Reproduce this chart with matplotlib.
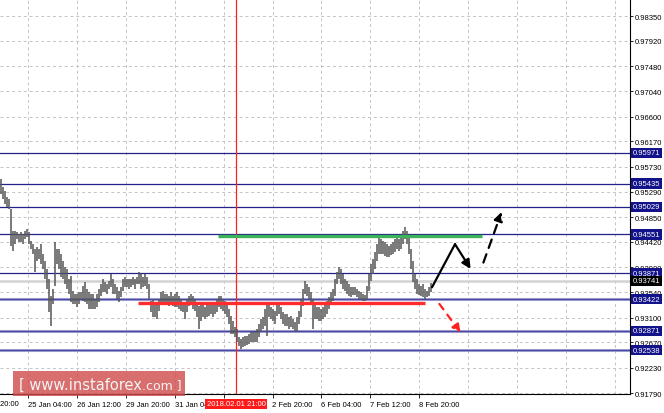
import numpy as np
import matplotlib
matplotlib.use("Agg")
import matplotlib.pyplot as plt
from matplotlib.patches import Rectangle

# ── H1 bars (high / low) ─────────────────────────────────────────
bar_high = [
    .9551, .9537, .9530, .9520, .9517, .9499, .9461, .9461, .9459, .9456,
    .9459, .9456, .9461, .9464, .9459, .9444, .9438, .9430, .9433, .9430,
    .9438, .9421, .9409, .9395, .9377, .9348, .9360, .9442, .9430, .9430,
    .9421, .9409, .9398, .9395, .9377, .9383, .9356, .9351, .9351, .9355,
    .9355, .9365, .9372, .9360, .9355, .9351, .9351, .9343, .9351, .9360,
    .9369, .9377, .9372, .9369, .9374, .9386, .9377, .9369, .9364, .9356,
    .9364, .9377, .9381, .9377, .9377, .9377, .9381, .9377, .9381, .9390,
    .9386, .9381, .9386, .9381, .9369, .9339, .9343, .9334, .9334, .9343,
    .9355, .9356, .9351, .9351, .9348, .9355, .9348, .9351, .9355, .9348,
    .9343, .9337, .9334, .9343, .9348, .9351, .9348, .9343, .9334, .9330,
    .9334, .9334, .9329, .9334, .9337, .9334, .9334, .9337, .9343, .9348,
    .9348, .9343, .9339, .9334, .9325, .9313, .9304, .9294, .9290, .9276,
    .9273, .9276, .9278, .9278, .9282, .9285, .9285, .9285, .9290, .9299,
    .9308, .9311, .9325, .9334, .9334, .9329, .9325, .9321, .9334, .9337,
    .9329, .9320, .9317, .9317, .9311, .9313, .9308, .9303, .9311, .9321,
    .9343, .9360, .9374, .9369, .9364, .9355, .9343, .9334, .9329, .9329,
    .9325, .9329, .9334, .9339, .9346, .9355, .9360, .9377, .9390, .9398,
    .9395, .9386, .9377, .9374, .9369, .9364, .9364, .9364, .9360, .9356,
    .9355, .9351, .9350, .9365, .9386, .9404, .9412, .9425, .9438, .9451,
    .9447, .9444, .9442, .9438, .9435, .9438, .9442, .9447, .9451, .9447,
    .9451, .9461, .9468, .9461, .9451, .9430, .9409, .9386, .9377, .9369,
    .9365, .9369, .9360, .9356, .9364, .9370,
]
bar_low = [
    .9525, .9517, .9508, .9503, .9499, .9435, .9426, .9438, .9447, .9442,
    .9442, .9438, .9447, .9451, .9438, .9430, .9421, .9390, .9409, .9412,
    .9404, .9395, .9377, .9360, .9320, .9296, .9334, .9365, .9404, .9395,
    .9381, .9377, .9369, .9360, .9351, .9337, .9334, .9334, .9329, .9334,
    .9343, .9339, .9337, .9334, .9325, .9325, .9325, .9325, .9329, .9337,
    .9348, .9355, .9355, .9351, .9360, .9364, .9351, .9351, .9343, .9337,
    .9346, .9356, .9364, .9364, .9360, .9364, .9367, .9360, .9369, .9369,
    .9360, .9364, .9365, .9360, .9343, .9320, .9311, .9311, .9308, .9321,
    .9334, .9337, .9334, .9334, .9330, .9334, .9330, .9329, .9329, .9325,
    .9321, .9320, .9308, .9320, .9330, .9334, .9325, .9321, .9311, .9290,
    .9304, .9311, .9308, .9311, .9313, .9317, .9311, .9317, .9320, .9329,
    .9325, .9321, .9317, .9311, .9299, .9282, .9282, .9276, .9268, .9261,
    .9256, .9259, .9261, .9262, .9264, .9268, .9268, .9268, .9268, .9276,
    .9285, .9290, .9296, .9278, .9311, .9308, .9304, .9299, .9313, .9317,
    .9308, .9299, .9296, .9296, .9290, .9294, .9290, .9285, .9287, .9299,
    .9311, .9330, .9351, .9348, .9343, .9334, .9290, .9308, .9308, .9304,
    .9304, .9308, .9311, .9317, .9325, .9334, .9339, .9348, .9369, .9377,
    .9369, .9360, .9356, .9351, .9348, .9346, .9350, .9350, .9346, .9343,
    .9343, .9339, .9339, .9343, .9356, .9374, .9386, .9395, .9409, .9421,
    .9421, .9421, .9418, .9416, .9416, .9419, .9421, .9425, .9430, .9426,
    .9430, .9438, .9447, .9438, .9421, .9395, .9372, .9360, .9351, .9350,
    .9348, .9346, .9343, .9346, .9348, .9355,
]

# levels drawn on the chart
level_dark = [0.95971, 0.95435, 0.95029, 0.94551, 0.93871]
level_light = [0.93422, 0.92871, 0.92538]
last_price = 0.93741

price_ticks = [0.98350, 0.97920, 0.97480, 0.97040, 0.96600, 0.96170, 0.95730,
               0.95290, 0.94850, 0.94420, 0.93980, 0.93540, 0.93100, 0.92670,
               0.92230, 0.91790]
# first label is cut by the left edge; 1 Feb 12:00 sits under the red cursor box
first_label = "23 Jan 20:00"
time_labels = ["25 Jan 04:00", "26 Jan 12:00", "29 Jan 20:00",
               "31 Jan 04:00", "", "2 Feb 20:00", "6 Feb 04:00",
               "7 Feb 12:00", "8 Feb 20:00"]
cursor_label = "2018.02.01 21:00"
cursor_bar = 117.5

# support / resistance zones and forecast arrows (bar index, price)
green_zone = ([108.5, 240.5], 0.9452)
red_zone = ([68.5, 212.0], 0.93365)
up_path = [(215.5, 0.9363), (227.0, 0.9438), (234.8, 0.9395)]
up_dashed = [(241.2, 0.9406), (250.3, 0.9494)]
down_dashed = [(219.2, 0.9334), (229.8, 0.9284)]

W, H = 664, 414
fig = plt.figure(figsize=(W / 100, H / 100), dpi=100)
fig.patch.set_facecolor("white")
ax = fig.add_axes([0, 19 / H, 630 / W, 395 / H])

for s in ("top", "left"):
    ax.spines[s].set_visible(False)
for s in ("right", "bottom"):
    ax.spines[s].set_color("black")
    ax.spines[s].set_linewidth(0.8)

FS = 5.5
FONT = "Liberation Sans"

# grid
step = 24.45
first_tick = 13.5
tick_pos = [first_tick + step * k for k in range(len(time_labels))]
grid_x = [first_tick + step * k for k in range(13)]
for gx in grid_x:
    ax.axvline(gx, color="#c4c4c4", lw=0.7, ls=(0, (3, 3)), zorder=0)
for gy in price_ticks:
    ax.axhline(gy, color="#c4c4c4", lw=0.7, ls=(0, (3, 3)), zorder=0)

# price line and levels
ax.axhline(last_price, color="#d2d2d2", lw=1.8, zorder=1)
for lv in level_light:
    ax.axhline(lv, color="#9a9ad0", lw=2.2, zorder=1)
    ax.axhline(lv, color="#3a3a98", lw=0.6, zorder=1)
for lv in level_dark:
    ax.axhline(lv, color="#22228a", lw=0.9, zorder=1)

ax.axvline(cursor_bar, color="#ff2020", lw=0.9, zorder=1)

# bars
idx = np.arange(len(bar_high))
ax.vlines(idx, bar_low, bar_high, color="#555555", lw=1.1, zorder=2)

# zones
ax.plot(green_zone[0], [green_zone[1]] * 2, color="#3cb35a", lw=2.4,
        solid_capstyle="butt", zorder=3)
ax.plot(red_zone[0], [red_zone[1]] * 2, color="#ff2d2d", lw=2.4,
        solid_capstyle="butt", zorder=3)

# forecast arrows
ax.plot([up_path[0][0], up_path[1][0]], [up_path[0][1], up_path[1][1]],
        color="black", lw=1.6, zorder=4, solid_capstyle="round")
ax.annotate("", xy=up_path[2], xytext=up_path[1],
            arrowprops=dict(arrowstyle="-|>", color="black", lw=1.6,
                            mutation_scale=13, shrinkA=0, shrinkB=0),
            zorder=4)
ax.annotate("", xy=up_dashed[1], xytext=up_dashed[0],
            arrowprops=dict(arrowstyle="-|>", color="black", lw=1.6,
                            ls=(0, (4, 3)), mutation_scale=13,
                            shrinkA=0, shrinkB=0), zorder=4)
ax.annotate("", xy=down_dashed[1], xytext=down_dashed[0],
            arrowprops=dict(arrowstyle="-|>", color="#ff2020", lw=1.6,
                            ls=(0, (3, 3)), mutation_scale=12,
                            shrinkA=0, shrinkB=0), zorder=4)

# x axis
ax.set_xticks(tick_pos)
ax.set_xticklabels(time_labels, fontsize=FS, family=FONT)
for lbl in ax.get_xticklabels():
    lbl.set_ha("left")
ax.tick_params(axis="x", length=3, width=0.6, pad=2, color="black")

# y axis
ax.yaxis.tick_right()
ax.set_yticks(price_ticks)
ax.set_yticklabels([f"{v:.5f}" for v in price_ticks], fontsize=FS, family=FONT)
ax.tick_params(axis="y", length=2, width=0.6, pad=1.5, color="black")

ax.set_xlim(-0.5, 314.5)
ax.set_ylim(0.91773, 0.98646)

xtr = ax.get_xaxis_transform()
ax.text(9.0, -10 / 395, first_label, transform=xtr, fontsize=FS,
        family=FONT, color="black", va="center", ha="right", clip_on=False)

ytr = ax.get_yaxis_transform()
for lv in level_dark + level_light:
    ax.text(1.0 + 2.5 / 630, lv, f"{lv:.5f}", transform=ytr, fontsize=FS,
            family=FONT, color="white", va="center", ha="left", zorder=6,
            clip_on=False,
            bbox=dict(boxstyle="square,pad=0.22", fc="#12128a", ec="none"))
ax.text(1.0 + 2.5 / 630, last_price, f"{last_price:.5f}", transform=ytr,
        fontsize=FS, family=FONT, color="white", va="center", ha="left",
        zorder=6, clip_on=False,
        bbox=dict(boxstyle="square,pad=0.22", fc="black", ec="none"))

ax.text(cursor_bar, -10 / 395, cursor_label, transform=xtr, fontsize=FS,
        family=FONT, color="white", va="center", ha="center", zorder=6,
        clip_on=False,
        bbox=dict(boxstyle="square,pad=0.25", fc="#ff1a1a", ec="none"))

# watermark
fig.patches.append(Rectangle((13 / W, (H - 397) / H), 172 / W, 25 / H,
                             transform=fig.transFigure, fc="#cf4a4a",
                             alpha=0.8, ec="none", zorder=10))
fig.text(19 / W, (H - 385) / H, "[ www.instaforex", fontsize=10.5,
         family="DejaVu Sans", color="#f4f4f4", va="center", ha="left",
         zorder=11)
fig.text(142 / W, (H - 386) / H, ".com ]", fontsize=9,
         family="DejaVu Sans", color="#f4f4f4", va="center", ha="left",
         zorder=11)

fig.savefig("out.png", dpi=100)
